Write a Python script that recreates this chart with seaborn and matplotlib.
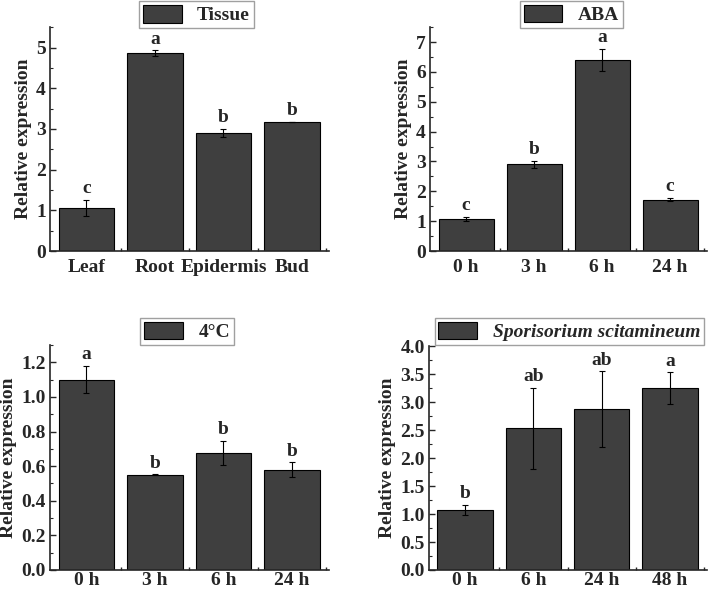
import matplotlib
matplotlib.use("Agg")
import matplotlib.pyplot as plt
import seaborn as sns
import pandas as pd
from matplotlib.patches import Patch
from matplotlib.ticker import MultipleLocator, FixedLocator

# data
tissue_labels = ['Leaf', 'Root', 'Epidermis', 'Bud']
tissue_mean = [1.06, 4.86, 2.90, 3.17]
tissue_err = [0.19, 0.07, 0.10, 0.01]
tissue_sig = ['c', 'a', 'b', 'b']

aba_labels = ['0 h', '3 h', '6 h', '24 h']
aba_mean = [1.07, 2.90, 6.40, 1.72]
aba_err = [0.07, 0.11, 0.37, 0.06]
aba_sig = ['c', 'b', 'a', 'c']

cold_labels = ['0 h', '3 h', '6 h', '24 h']
cold_mean = [1.10, 0.55, 0.675, 0.579]
cold_err = [0.08, 0.003, 0.07, 0.043]
cold_sig = ['a', 'b', 'b', 'b']

ss_labels = ['0 h', '6 h', '24 h', '48 h']
ss_mean = [1.07, 2.53, 2.87, 3.25]
ss_err = [0.095, 0.73, 0.68, 0.28]
ss_sig = ['b', 'ab', 'ab', 'a']

sns.set_style("ticks")
plt.rcParams['font.family'] = ['Liberation Serif', 'DejaVu Serif']
plt.rcParams['font.weight'] = 'bold'
plt.rcParams['axes.labelweight'] = 'bold'

FS = 14
BAR = '#3f3f3f'

fig = plt.figure(figsize=(7.09, 5.92), dpi=100)

panels = [
    # labels, mean, err, sig, legend text, ylim, major, minor, axes rect, legend center, italic, fmt, xpad
    (tissue_labels, tissue_mean, tissue_err, tissue_sig, 'Tissue', 5.5, 1, 0.5,
     [0.0705, 0.576, 0.3935, 0.378], (0.277, 0.975), False, '%d', 6),
    (aba_labels, aba_mean, aba_err, aba_sig, 'ABA', 7.5, 1, 0.5,
     [0.6065, 0.576, 0.3905, 0.378], (0.806, 0.976), False, '%d', 6),
    (cold_labels, cold_mean, cold_err, cold_sig, '4°C', 1.3, 0.2, 0.1,
     [0.0705, 0.0372, 0.3935, 0.380], (0.264, 0.440), False, '%.1f', 1.5),
    (ss_labels, ss_mean, ss_err, ss_sig, 'Sporisorium scitamineum', 4.0, 0.5, 0.25,
     [0.605, 0.0372, 0.392, 0.378], (0.803, 0.440), True, '%.1f', 1.5),
]

for labels, mean, err, sig, name, ytop, major, minor, rect, lpos, ital, fmt, xpad in panels:
    ax = fig.add_axes(rect)
    df = pd.DataFrame({'group': labels, 'value': mean})
    sns.barplot(data=df, x='group', y='value', color=BAR, saturation=1,
                width=0.81, edgecolor='black', linewidth=0.8, errorbar=None, ax=ax)
    ax.errorbar(range(len(labels)), mean, yerr=err, fmt='none', ecolor='black',
                elinewidth=0.8, capsize=2.2, capthick=0.8)
    for i, (m, e, s) in enumerate(zip(mean, err, sig)):
        ax.annotate(s, (i, m + e), xytext=(0, 2), textcoords='offset points',
                    ha='center', va='bottom', fontsize=FS, fontweight='bold')
    ax.set_xlim(-0.53, 3.54)
    ax.set_ylim(0, ytop)
    ax.yaxis.set_major_locator(MultipleLocator(major))
    ax.yaxis.set_minor_locator(MultipleLocator(minor))
    ax.yaxis.set_major_formatter(plt.FormatStrFormatter(fmt))
    ax.xaxis.set_minor_locator(FixedLocator([0.5, 1.5, 2.5, 3.5]))
    ax.tick_params(axis='y', which='major', direction='in', length=4, width=1,
                   labelsize=FS, pad=3)
    ax.tick_params(axis='y', which='minor', direction='in', length=2, width=0.8)
    ax.tick_params(axis='x', which='major', length=0, labelsize=FS, pad=xpad)
    ax.tick_params(axis='x', which='minor', direction='in', length=2.5, width=1)
    for t in ax.get_xticklabels() + ax.get_yticklabels():
        t.set_fontweight('bold')
    ax.set_xlabel('')
    ax.set_ylabel('Relative expression', fontsize=FS, fontweight='bold', labelpad=3)
    sns.despine(ax=ax)
    ax.spines['left'].set_linewidth(1.2)
    ax.spines['bottom'].set_linewidth(1.2)

    handle = Patch(facecolor=BAR, edgecolor='black', linewidth=0.8)
    leg = ax.legend([handle], [name], loc='center', bbox_to_anchor=lpos,
                    bbox_transform=fig.transFigure, frameon=True, fancybox=False,
                    handlelength=2.0, handleheight=1.0, borderpad=0.2,
                    handletextpad=0.8, borderaxespad=0,
                    prop={'size': FS, 'weight': 'bold',
                          'style': 'italic' if ital else 'normal'})
    leg.get_frame().set_edgecolor('#888888')
    leg.get_frame().set_linewidth(1.0)

fig.savefig('out.png', dpi=100)
